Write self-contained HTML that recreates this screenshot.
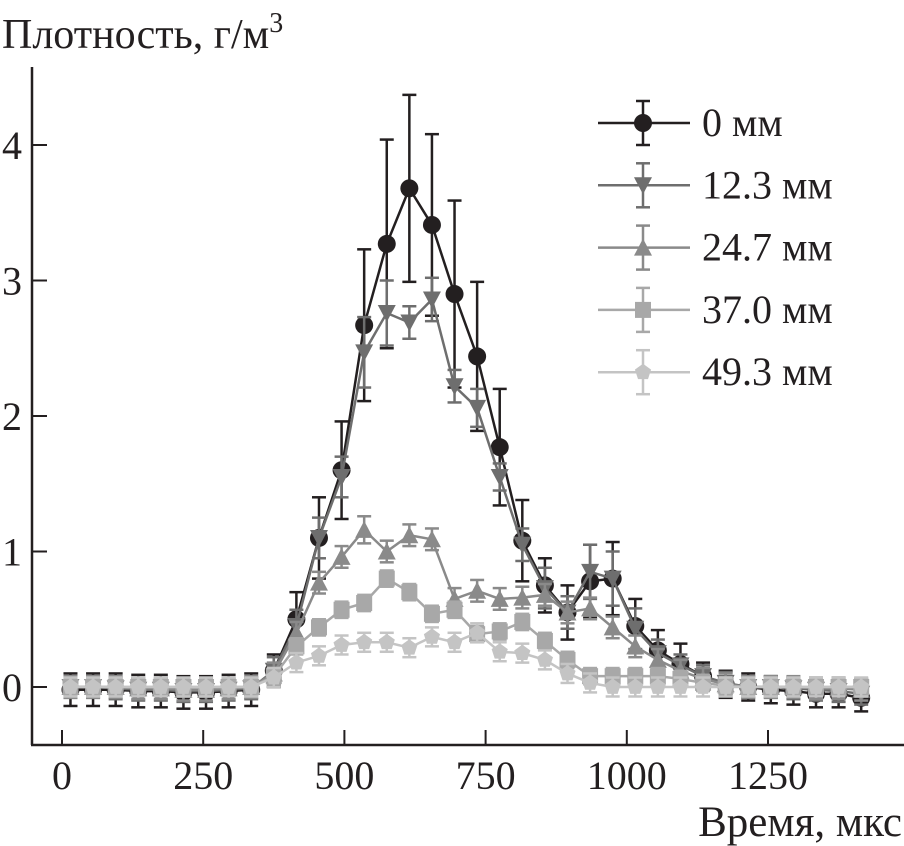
<!DOCTYPE html>
<html><head><meta charset="utf-8"><style>
body{margin:0;background:#fff}
svg{display:block;font-family:"Liberation Serif",serif}
</style></head><body>
<svg id="c" width="904" height="846" viewBox="0 0 904 846"></svg>
<script>
const times=[15,55,95,135,175,215,255,295,335,375,415,455,495,535,575,615,655,695,735,775,815,855,895,935,975,1015,1055,1095,1135,1175,1215,1255,1295,1335,1375,1415];
const seriesNames=["0 мм","12.3 мм","24.7 мм","37.0 мм","49.3 мм"];
const s0=[-0.02,-0.02,-0.02,-0.03,-0.03,-0.04,-0.04,-0.03,-0.02,0.12,0.5,1.1,1.6,2.67,3.27,3.68,3.41,2.9,2.44,1.77,1.08,0.75,0.55,0.78,0.8,0.45,0.27,0.17,0.08,0.02,0,-0.02,-0.03,-0.05,-0.05,-0.08];
const e0=[0.12,0.12,0.12,0.12,0.12,0.12,0.12,0.12,0.12,0.12,0.2,0.3,0.36,0.56,0.77,0.69,0.67,0.69,0.55,0.43,0.3,0.2,0.2,0.27,0.27,0.2,0.15,0.15,0.1,0.1,0.1,0.1,0.1,0.1,0.1,0.1];
const s1=[0,0,-0.01,-0.02,-0.02,-0.03,-0.03,-0.02,-0.01,0.12,0.45,1.1,1.55,2.47,2.76,2.69,2.86,2.22,2.06,1.55,1.05,0.73,0.55,0.85,0.8,0.43,0.25,0.16,0.08,0.03,0,0,-0.01,-0.02,-0.03,-0.05];
const e1=[0.08,0.08,0.08,0.08,0.08,0.08,0.08,0.08,0.08,0.1,0.12,0.15,0.15,0.26,0.24,0.12,0.16,0.12,0.14,0.1,0.12,0.15,0.12,0.2,0.2,0.15,0.1,0.08,0.08,0.08,0.08,0.08,0.08,0.08,0.08,0.08];
const s2=[0,0,0,-0.01,-0.01,-0.02,-0.02,-0.01,0,0.1,0.4,0.77,0.96,1.16,1.0,1.12,1.09,0.65,0.71,0.65,0.66,0.68,0.55,0.58,0.44,0.3,0.2,0.12,0.06,0.02,0,0,0,-0.01,-0.01,-0.02];
const e2=[0.08,0.08,0.08,0.08,0.08,0.08,0.08,0.08,0.08,0.08,0.08,0.08,0.08,0.1,0.08,0.08,0.08,0.08,0.08,0.08,0.08,0.08,0.08,0.08,0.08,0.08,0.08,0.08,0.08,0.08,0.08,0.08,0.08,0.08,0.08,0.08];
const s3=[0,0,0,0,0,0,0,0,0,0.08,0.3,0.44,0.57,0.62,0.8,0.7,0.54,0.57,0.39,0.41,0.48,0.34,0.2,0.08,0.08,0.08,0.08,0.06,0.03,0.01,0,0,0,0,0,0];
const e3=[0.06,0.06,0.06,0.06,0.06,0.06,0.06,0.06,0.06,0.06,0.06,0.06,0.06,0.06,0.06,0.06,0.06,0.06,0.06,0.06,0.06,0.06,0.06,0.06,0.06,0.06,0.06,0.06,0.06,0.06,0.06,0.06,0.06,0.06,0.06,0.06];
const s4=[0,0,0,0,0,0,0,0,0,0.07,0.18,0.23,0.31,0.33,0.33,0.29,0.37,0.33,0.4,0.26,0.25,0.2,0.1,0.03,0,0,0,0,0,0,0,0,0,0,0,0];
const e4=[0.07,0.07,0.07,0.07,0.07,0.07,0.07,0.07,0.07,0.07,0.07,0.07,0.07,0.07,0.07,0.07,0.07,0.07,0.07,0.07,0.07,0.07,0.07,0.07,0.07,0.07,0.07,0.07,0.07,0.07,0.07,0.07,0.07,0.07,0.07,0.07];
const xTicks=[0,250,500,750,1000,1250];
const yTicks=[0,1,2,3,4];

const svg=document.getElementById('c');
const NS='http://www.w3.org/2000/svg';
const X=v=>62+v*0.5648;
const Y=v=>687-v*135.5;
function mk(tag,attrs,parent){const e=document.createElementNS(NS,tag);for(const k in attrs)e.setAttribute(k,attrs[k]);(parent||svg).appendChild(e);return e;}

let e;
e=mk('line',{x1:32,y1:67,x2:32,y2:745,stroke:'#231f20','stroke-width':2.5});


e=mk('line',{x1:31,y1:745,x2:904,y2:745,stroke:'#231f20','stroke-width':2.5});


yTicks.forEach(t=>{
  e=mk('line',{x1:32,y1:Y(t),x2:47,y2:Y(t),stroke:'#231f20','stroke-width':2});
  
  
  e=mk('text',{x:12,y:Y(t)+14,'text-anchor':'middle','font-size':40,fill:'#231f20'});
  e.textContent=t;
  
  
});
xTicks.forEach(t=>{
  e=mk('line',{x1:X(t),y1:745,x2:X(t),y2:730,stroke:'#231f20','stroke-width':2});
  
  
  e=mk('text',{x:X(t),y:789,'text-anchor':'middle','font-size':40,fill:'#231f20'});
  e.textContent=t;
  
  
});
e=mk('text',{x:2,y:48,'font-size':42,fill:'#231f20'});
e.innerHTML='Плотность, г/м<tspan dy="-16" font-size="28">3</tspan>';


e=mk('text',{x:902,y:836,'text-anchor':'end','font-size':43,fill:'#231f20'});
e.textContent='Время, мкс';



const colors=['#231f20','#6e6e6e','#8a8a8a','#a8a8a8','#c4c4c4'];
const shapes=['circle','down','up','square','pent'];
function marker(g,shape,cx,cy,col){
  let el;
  if(shape==='circle')el=mk('circle',{cx,cy,r:9,fill:col},g);
  else if(shape==='down')el=mk('polygon',{points:`${cx-9},${cy-8} ${cx+9},${cy-8} ${cx},${cy+9}`,fill:col},g);
  else if(shape==='up')el=mk('polygon',{points:`${cx-9},${cy+8} ${cx+9},${cy+8} ${cx},${cy-9}`,fill:col},g);
  else if(shape==='square')el=mk('rect',{x:cx-8,y:cy-8,width:16,height:16,fill:col},g);
  else{let p=[];for(let i=0;i<5;i++){const a=-Math.PI/2+i*2*Math.PI/5;p.push((cx+8.5*Math.cos(a))+','+(cy+8.5*Math.sin(a)));}el=mk('polygon',{points:p.join(' '),fill:col},g);}
  return el;
}
function errbar(g,cx,y1,y2,col){
  mk('line',{x1:cx,y1:y1,x2:cx,y2:y2,stroke:col,'stroke-width':2.5},g);
  mk('line',{x1:cx-7,y1:y1,x2:cx+7,y2:y1,stroke:col,'stroke-width':2.5},g);
  mk('line',{x1:cx-7,y1:y2,x2:cx+7,y2:y2,stroke:col,'stroke-width':2.5},g);
}
const vals=[s0,s1,s2,s3,s4], errs=[e0,e1,e2,e3,e4];
for(let s=0;s<5;s++){
  const g=mk('g',{});
  
  
  const col=colors[s];
  times.forEach((t,i)=>errbar(g,X(t),Y(vals[s][i]+errs[s][i]),Y(vals[s][i]-errs[s][i]),col));
  const pl=mk('polyline',{points:times.map((t,i)=>X(t)+','+Y(vals[s][i])).join(' '),fill:'none',stroke:col,'stroke-width':2.5},g);
  
  
  times.forEach((t,i)=>{
    const m=marker(g,shapes[s],X(t),Y(vals[s][i]),col);
    
    
  });
}
// legend
seriesNames.forEach((n,s)=>{
  const g=mk('g',{});
  
  
  const y=123+s*62.3, col=colors[s];
  mk('line',{x1:598,y1:y,x2:690,y2:y,stroke:col,'stroke-width':2.5},g);
  errbar(g,643,y-22,y+22,col);
  marker(g,shapes[s],643,y,col);
  const t=mk('text',{x:702,y:y+13,'font-size':40,fill:'#231f20'},g);
  t.textContent=n;
});
</script>
</body></html>
